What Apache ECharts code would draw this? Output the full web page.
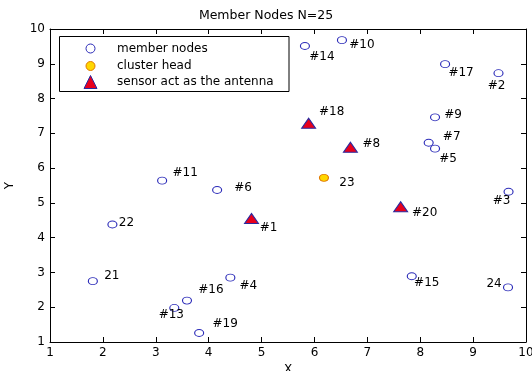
<!DOCTYPE html>
<html><head><meta charset="utf-8">
<script src="https://cdn.jsdelivr.net/npm/echarts@6/dist/echarts.min.js"></script>
<style>html,body{margin:0;padding:0;background:#fff}#c{width:532px;height:371px}</style>
</head><body><div id="c"></div>
<script>
// ---- data ----
const memberLabels = ['#14','#10','#17','#2','#9','#7','#5','#11','#6','22','21','#4','#16','#13','#19','#3','#15','24'];
const memberX = [5.82, 6.52, 8.47, 9.48, 8.28, 8.16, 8.28, 3.12, 4.16, 2.18, 1.81, 4.41, 3.59, 3.35, 3.82, 9.67, 7.84, 9.66];
const memberY = [9.51, 9.68, 8.99, 8.73, 7.46, 6.73, 6.56, 5.64, 5.37, 4.38, 2.75, 2.85, 2.19, 1.98, 1.26, 5.32, 2.89, 2.57];
const headLabels = ['23'];
const headX = [6.18];
const headY = [5.72];
const antennaLabels = ['#18','#8','#1','#20'];
const antennaX = [5.89, 6.68, 4.81, 7.63];
const antennaY = [7.29, 6.60, 4.55, 4.89];
const xTicks = [1,2,3,4,5,6,7,8,9,10];
const yTicks = [1,2,3,4,5,6,7,8,9,10];

// ---- layout (label offsets, px) ----
const memberOffsets = [[17,11],[20,5],[16,9],[-2,13],[18,-2],[23,-6],[13,10],[23,-8],[26,-2],[14,-2],[19,-5],[18,8],[24,-11],[-3,7],[26,-9],[-7,9],[15,7],[-14,-4]];
const headOffsets = [[23,5]];
const antennaOffsets = [[23,-11],[21,-3],[17,9],[24,6]];

const FONT = 'DejaVu Sans';
function build(xs, ys, labels, offs){
  return xs.map((x,i)=>({name:labels[i], value:[x, ys[i]], label:{offset:offs[i]}}));
}
const chart = echarts.init(document.getElementById('c'), null, {renderer:'canvas'});
const axisCommon = {
  type:'value', min:xTicks[0], max:xTicks[xTicks.length-1], interval:1,
  axisLine:{show:true, lineStyle:{color:'#000', width:1}},
  axisTick:{show:true, inside:true, length:5, lineStyle:{color:'#000'}},
  splitLine:{show:false}
};
const labelStyle = {show:true, position:'inside', formatter:'{b}', color:'#000', fontFamily:FONT, fontSize:12};
const legText = {fontFamily:FONT, fontSize:12, color:'#000'};
function leg(name, cx, top, size, textPad){
  return {data:[name], left:cx - size/2, top:top, padding:0, itemWidth:size, itemHeight:size,
    selectedMode:false, z:6, itemStyle:{borderWidth:1},
    textStyle:Object.assign({padding:[0,0,0,textPad]}, legText)};
}
chart.setOption({
  animation:false,
  backgroundColor:'#fff',
  title:{text:'Member Nodes N=25', left:'center', top:9, padding:0, textStyle:{fontFamily:FONT, fontSize:12.5, fontWeight:'normal', color:'#000'}},
  grid:{left:50, top:29, width:476, height:313, show:false, outerBoundsMode:'none', containLabel:false},
  graphic:[{type:'rect', shape:{x:59.5, y:36.5, width:229.5, height:55}, style:{fill:'#fff', stroke:'#000', lineWidth:1}, z:5}],
  legend:[
    leg('member nodes', 90, 42.5, 9, 17),
    leg('cluster head', 90, 60, 9, 17),
    leg('sensor act as the antenna', 90, 75, 13, 15)
  ],
  xAxis:[
    Object.assign({}, axisCommon, {position:'bottom', name:'X', nameLocation:'middle', nameGap:15,
      nameTextStyle:{fontFamily:FONT, fontSize:12, color:'#000'},
      axisLabel:{color:'#000', fontFamily:FONT, fontSize:12, margin:5}}),
    Object.assign({}, axisCommon, {position:'top', axisLabel:{show:false}})
  ],
  yAxis:[
    Object.assign({}, axisCommon, {min:yTicks[0], max:yTicks[yTicks.length-1], position:'left', name:'Y', nameLocation:'middle', nameGap:34, nameRotate:90,
      nameTextStyle:{fontFamily:FONT, fontSize:12, color:'#000'},
      axisLabel:{color:'#000', fontFamily:FONT, fontSize:12, margin:5}}),
    Object.assign({}, axisCommon, {min:yTicks[0], max:yTicks[yTicks.length-1], position:'right', axisLabel:{show:false}})
  ],
  series:[
    {name:'member nodes', type:'scatter', symbol:'circle', symbolSize:[9,7],
     itemStyle:{color:'#fff', borderColor:'#2a2ab8', borderWidth:1, opacity:1},
     label:labelStyle, data:build(memberX, memberY, memberLabels, memberOffsets)},
    {name:'cluster head', type:'scatter', symbol:'circle', symbolSize:[9,7],
     itemStyle:{color:'#ffd700', borderColor:'#e07800', borderWidth:1, opacity:1},
     label:labelStyle, data:build(headX, headY, headLabels, headOffsets)},
    {name:'sensor act as the antenna', type:'scatter', symbol:'triangle', symbolSize:[14,10],
     itemStyle:{color:'#e8001c', borderColor:'#2a2aa0', borderWidth:1, opacity:1},
     label:labelStyle, data:build(antennaX, antennaY, antennaLabels, antennaOffsets)}
  ]
});
</script>
</body></html>
